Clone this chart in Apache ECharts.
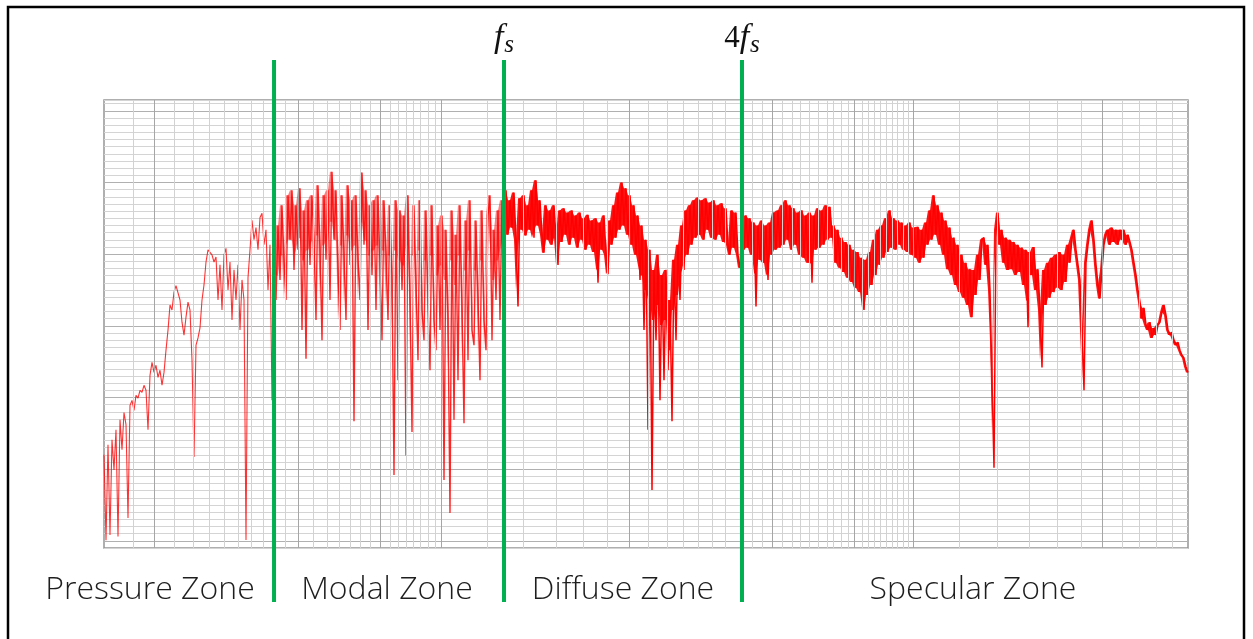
<!DOCTYPE html>
<html>
<head>
<meta charset="utf-8">
<script src="https://cdn.jsdelivr.net/npm/echarts@6/dist/echarts.min.js"></script>
<style>
  html, body { margin: 0; padding: 0; background: #ffffff; }
  #chart { width: 1253px; height: 639px; }
</style>
</head>
<body>
<div id="chart"></div>
<script>
// Frequency response of a room, 20 Hz – 20 kHz, sampled on a log-spaced grid.
const FREQ_START = 20;
const FREQ_END = 20000;
const LEVEL_MIN = 29;
const LEVEL_MAX = 91.5;

// Measured level (dB) at each log-spaced frequency bin.
const levels = [
  42.0, 30.1, 43.4, 30.8, 44.1, 39.9, 45.5, 30.6, 46.9, 42.7, 47.9, 46.2, 33.2, 48.9, 49.6, 48.2, 50.3, 49.9, 51.0,
  50.7, 51.7, 51.0, 45.5, 53.1, 54.9, 53.5, 54.5, 52.8, 53.8, 51.7, 53.5, 56.6, 59.4, 62.9, 62.2, 64.7, 65.6, 65.7, 63.6,
  60.5, 58.7, 61.2, 63.3, 62.2, 55.2, 41.7, 57.3, 58.3, 59.7,
  63.6, 65.7, 68.9, 70.6, 70.8, 69.9, 68.9, 69.6, 63.6, 68.5, 62.2, 69.9, 70.8, 65.0, 68.9, 60.8, 67.8, 63.6, 68.5, 59.4,
  66.4, 63.6, 30.1, 66.7, 70.6, 74.7, 72.0, 73.7, 70.6, 75.1, 75.7, 71.3, 73.4, 65.0, 71.3, 49.6,
  75.4, 63.6, 74.0, 66.4, 76.8, 69.2, 63.6, 78.2, 72.0, 78.9,
  67.8, 76.8, 70.6, 79.2, 59.4, 76.1, 55.4, 77.5, 68.5, 78.2,
  72.0, 60.8, 79.6, 70.6, 58.0, 78.2, 69.2, 78.9, 63.6, 81.5,
  72.0, 78.9, 67.8, 59.4, 78.2, 69.9, 60.8, 79.6, 68.5, 77.5,
  46.7, 78.2, 69.2, 63.6, 81.4, 71.3, 78.9, 59.4, 76.8, 67.1,
  77.5, 62.2, 78.2, 68.5, 58.0, 77.5, 69.9, 60.8, 76.8, 66.4,
  39.2, 77.5, 52.4, 76.1, 65.0, 75.4, 41.9, 78.2, 63.6, 45.2,
  76.8, 65.7, 55.2, 77.5, 62.2, 58.0, 76.1, 63.6, 53.8, 76.8,
  60.8, 56.6, 74.0, 59.4, 75.4, 38.5, 73.4, 60.8, 33.9, 76.1,
  46.9, 72.7, 52.4, 76.8, 62.2, 46.4, 74.7, 55.2, 77.5, 59.4,
  57.3, 74.7, 63.6, 52.4, 76.1, 60.8, 56.6, 75.4, 78.2, 58.0,
  73.4, 63.6, 76.1, 60.8, 77.5, 72.0,
  78.9, 72.7, 77.5, 73.7, 78.6, 72.0, 62.7, 77.8, 73.4, 78.2,
  72.6, 76.8, 73.4, 78.9, 72.3, 80.3, 74.0, 77.5, 72.7, 70.2,
  76.8, 72.0, 76.1, 71.3, 76.8, 72.3, 68.5, 76.1, 71.7, 76.4,
  72.7, 75.8, 71.3, 76.1, 72.3, 75.4, 70.9, 75.8, 72.0, 75.0,
  70.6, 75.5, 71.3, 74.7, 70.3, 75.0, 66.0, 74.4, 70.6, 75.4,
  69.9, 67.2, 74.7, 71.3, 76.8, 72.3, 78.6, 73.4, 80.0, 74.0,
  79.2, 72.7, 78.2, 71.3, 76.8, 69.9, 75.4, 66.4, 74.0, 59.4,
  72.0, 45.5, 70.6, 37.1, 67.8, 58.0, 69.9, 49.6, 67.1, 52.4,
  67.8, 53.8, 63.6, 46.7, 69.2, 58.0, 71.3, 63.6, 74.0, 67.8,
  76.1, 69.9, 76.8, 71.3, 77.5, 72.3, 77.9, 72.7, 77.5, 72.0,
  77.8, 73.4, 77.2, 72.3, 77.5, 72.0, 76.8, 72.7, 77.1, 71.7,
  76.4, 71.3, 69.9, 76.1, 70.9, 75.8, 69.9, 68.1, 74.7,
  70.6, 75.4, 70.9, 75.0, 69.9, 74.4, 62.7, 74.0, 69.2, 74.7,
  68.8, 74.0, 66.4, 74.4, 69.9, 75.8, 70.6, 76.1, 70.9, 76.8,
  71.3, 77.5, 72.0, 76.8, 70.6, 76.4, 71.3, 75.8, 69.9, 76.1,
  69.5, 75.4, 68.8, 75.8, 66.0, 75.4, 70.6, 76.4, 70.9, 76.1,
  71.3, 76.8, 72.0, 76.6, 72.3, 74.0, 68.8, 73.4, 68.1, 72.3,
  67.5, 71.7, 66.7, 71.3, 66.1, 70.6, 65.3, 70.3, 64.7, 69.5,
  62.2, 69.2, 64.3, 70.3, 65.7, 72.0, 67.1, 73.4, 68.5, 74.0,
  69.5, 75.0, 70.3, 76.1, 70.9, 75.0, 70.6, 74.7, 71.3, 74.4,
  70.6, 74.0, 70.3, 74.4, 69.9, 73.7, 69.5, 73.8, 68.8, 73.4,
  69.5, 74.4, 71.3, 76.1, 72.0, 78.2, 72.7, 76.8, 71.3, 75.8,
  69.9, 74.7, 67.9, 73.7, 67.1, 72.3, 65.7, 71.3, 64.7, 69.9,
  63.9, 68.8, 62.9, 67.9, 61.2, 67.8, 64.3, 69.9, 66.4, 72.0,
  72.3, 68.5, 71.3, 65.0, 52.4, 40.2, 73.4, 75.8, 71.3, 73.4,
  68.8, 72.3, 67.8, 72.0, 67.9, 71.7, 67.1, 71.3, 67.5, 70.9,
  65.7, 70.6, 59.8, 70.3, 67.1, 71.0, 65.0, 67.9, 62.2, 54.2,
  67.8, 62.9, 68.8, 63.9, 69.5, 64.7, 69.9, 65.3, 70.3, 65.0,
  69.9, 66.1, 71.3, 68.8, 72.3, 73.4, 70.6, 68.5, 66.4, 59.4,
  51.0, 68.8, 71.3, 73.4, 74.7, 72.0, 68.5, 65.7, 63.8, 67.8,
  71.3, 72.7, 73.4, 71.3, 73.7, 71.7, 73.4, 71.3, 73.4, 72.0,
  73.4, 71.3, 72.7, 71.7, 70.6, 68.8, 67.1, 65.0, 63.3, 61.0,
  62.5, 60.1, 59.4, 60.5, 58.3, 59.7, 58.7, 60.1, 60.5, 61.9,
  62.9, 61.5, 59.4, 58.7, 59.1, 58.0, 57.3, 57.7, 56.6, 55.9,
  55.5, 54.3, 53.5
];

// Vertical chart-paper rulings (Hz).
const gridMajorHz = [27.5, 68.9, 116.1, 171.2, 567.5, 1412, 2380, 3468, 11562];
const gridMinorHz = [
  24.1, 31.2, 35.3, 39.0, 43.0, 47.0, 51.0, 55.1, 59.1, 63.4,
  75.8, 82.8, 89.4, 95.9, 102.2, 108.9, 123.7, 130.2, 137.0, 143.3, 149.8, 157.6, 164.8,
  229.6, 288.8, 356.4, 423.5, 493.4, 640.6, 723.0, 800.8, 881.0, 963.0, 1046,
  1243, 1324, 1505, 1603, 1688, 1787, 1893, 2004, 2082, 2191, 2291,
  2506, 2602, 2704, 2810, 2920, 3032, 3130, 3252, 3358,
  4648, 5920, 7260, 8680, 10114, 13136, 14636, 16306, 18060
];

// Zone boundaries (Hz) and their captions.
const zoneEdgeHz = [59.1, 255.9, 1166];
const zoneEdgeLabels = ['', '{i|f}{s|s}', '{n|4}{i|f}{s|s}'];
const zoneNames = ['Pressure Zone', 'Modal Zone', 'Diffuse Zone', 'Specular Zone'];

const freqs = levels.map((_, i) =>
  FREQ_START * Math.pow(FREQ_END / FREQ_START, i / (levels.length - 1)));
const trace = levels.map((v, i) => [freqs[i], v]);

// Trace is split at the zone edges so each zone gets its own stroke weight;
// the rapid ripple of each zone is shaded as a band between neighbouring bins.
const zoneBounds = [FREQ_START].concat(zoneEdgeHz, [FREQ_END]);
const zoneStroke = [
  { width: 1.1, opacity: 0.8, band: 0 },
  { width: 1.4, opacity: 0.85, band: 0.5 },
  { width: 1.5, opacity: 1, band: 0.92 },
  { width: 1.5, opacity: 1, band: 0.92 }
];
const BAND_DEPTH = 7; // dB below the local peak that the ripple shading reaches

const traceSeries = [];
zoneNames.forEach((_, k) => {
  const lo = zoneBounds[k], hi = zoneBounds[k + 1];
  const s = trace.findIndex(p => p[0] >= lo);
  let e = s;
  while (e + 1 < trace.length && trace[e + 1][0] <= hi) e++;
  if (k === zoneNames.length - 1) e = trace.length - 1;
  const pts = trace.slice(Math.max(0, s - 1), e + 1);
  const st = zoneStroke[k];

  if (st.band > 0) {
    const bandTop = [], bandBottom = [];
    pts.forEach((p, i) => {
      const q = pts[Math.min(i + 1, pts.length - 1)];
      const top = Math.max(p[1], q[1]);
      const bottom = Math.max(Math.min(p[1], q[1]), top - BAND_DEPTH);
      bandTop.push([p[0], top]);
      bandBottom.push([p[0], bottom]);
    });
    traceSeries.push({
      type: 'custom',
      xAxisIndex: 0, yAxisIndex: 0,
      z: 2,
      silent: true,
      clip: true,
      data: [[pts[0][0], pts[0][1]]],
      renderItem: (params, api) => {
        const upper = bandTop.map(p => api.coord(p));
        const lower = bandBottom.map(p => api.coord(p)).reverse();
        return {
          type: 'polygon',
          shape: { points: upper.concat(lower) },
          style: { fill: 'rgba(255,0,0,' + st.band + ')' }
        };
      }
    });
  }

  traceSeries.push({
    type: 'line',
    xAxisIndex: 0, yAxisIndex: 0,
    z: 3,
    silent: true,
    showSymbol: false,
    symbol: 'none',
    sampling: null,
    lineStyle: { color: '#ff0000', width: st.width, opacity: st.opacity, join: 'bevel' },
    data: pts
  });
});

// Light rulings every dB, darker every 10 dB (ticks start at 29 dB).
const hLineColors = [];
for (let k = 0; k < 10; k++) hLineColors.push(k === 1 ? '#b0b0b0' : '#d4d4d4');

const edgeRich = {
  n: { fontFamily: 'Liberation Serif', fontSize: 31, color: '#111' },
  i: { fontFamily: 'Liberation Serif', fontStyle: 'italic', fontSize: 34, color: '#111' },
  s: { fontFamily: 'Liberation Serif', fontStyle: 'italic', fontSize: 25, color: '#111', padding: [14, 0, 0, 1] }
};

const edgeSeries = zoneEdgeHz.map((f, k) => ({
  type: 'line',
  xAxisIndex: 1,
  yAxisIndex: 1,
  z: 6,
  silent: true,
  symbol: 'circle',
  symbolSize: 0.1,
  lineStyle: { color: '#00b050', width: 4 },
  itemStyle: { color: '#00b050' },
  data: [
    [f, 0],
    {
      value: [f, 1],
      label: {
        show: zoneEdgeLabels[k] !== '',
        position: 'top',
        distance: 2,
        formatter: zoneEdgeLabels[k],
        rich: edgeRich
      }
    }
  ]
}));

const rulingLines = [].concat(
  gridMinorHz.map(f => ({ xAxis: f, lineStyle: { color: '#d2d2d2', width: 1, type: 'solid' } })),
  gridMajorHz.map(f => ({ xAxis: f, lineStyle: { color: '#a6a6a6', width: 1, type: 'solid' } }))
);

const zoneLabelX = [150, 387, 623, 973];

const option = {
  animation: false,
  backgroundColor: '#ffffff',
  grid: [
    { left: 104, right: 65, top: 100, bottom: 91, show: true,
      borderColor: '#959595', borderWidth: 1.5, backgroundColor: '#ffffff' },
    { left: 104, right: 65, top: 60, bottom: 37, show: false }
  ],
  xAxis: [
    { type: 'log', logBase: 10, min: FREQ_START, max: FREQ_END, gridIndex: 0,
      axisLine: { show: false }, axisTick: { show: false }, axisLabel: { show: false },
      splitLine: { show: false }, minorSplitLine: { show: false } },
    { type: 'log', logBase: 10, min: FREQ_START, max: FREQ_END, gridIndex: 1,
      axisLine: { show: false }, axisTick: { show: false }, axisLabel: { show: false },
      splitLine: { show: false } }
  ],
  yAxis: [
    { type: 'value', min: LEVEL_MIN, max: LEVEL_MAX, interval: 1, gridIndex: 0,
      axisLine: { show: false }, axisTick: { show: false },
      axisLabel: { show: false, interval: 0 },
      splitLine: { show: true, interval: 0, lineStyle: { color: hLineColors, width: 1 } } },
    { type: 'value', min: 0, max: 1, gridIndex: 1,
      axisLine: { show: false }, axisTick: { show: false }, axisLabel: { show: false },
      splitLine: { show: false } }
  ],
  series: [
    {
      type: 'line',
      xAxisIndex: 0, yAxisIndex: 0,
      z: 1,
      silent: true,
      data: [],
      markLine: {
        silent: true,
        symbol: ['none', 'none'],
        label: { show: false },
        animation: false,
        data: rulingLines
      }
    }
  ].concat(traceSeries, edgeSeries),
  graphic: [
    {
      type: 'rect',
      silent: true,
      shape: { x: 8, y: 7, width: 1236, height: 700 },
      style: { fill: 'none', stroke: '#000000', lineWidth: 2.5 },
      z: 100
    }
  ].concat(zoneNames.map((name, k) => ({
    type: 'text',
    silent: true,
    x: zoneLabelX[k],
    y: 590,
    style: {
      text: name,
      font: '300 32px "Open Sans"',
      fill: '#1e1e1e',
      align: 'center',
      verticalAlign: 'middle'
    }
  })))
};

const chart = echarts.init(document.getElementById('chart'), null, { renderer: 'canvas' });
chart.setOption(option);
</script>
</body>
</html>
